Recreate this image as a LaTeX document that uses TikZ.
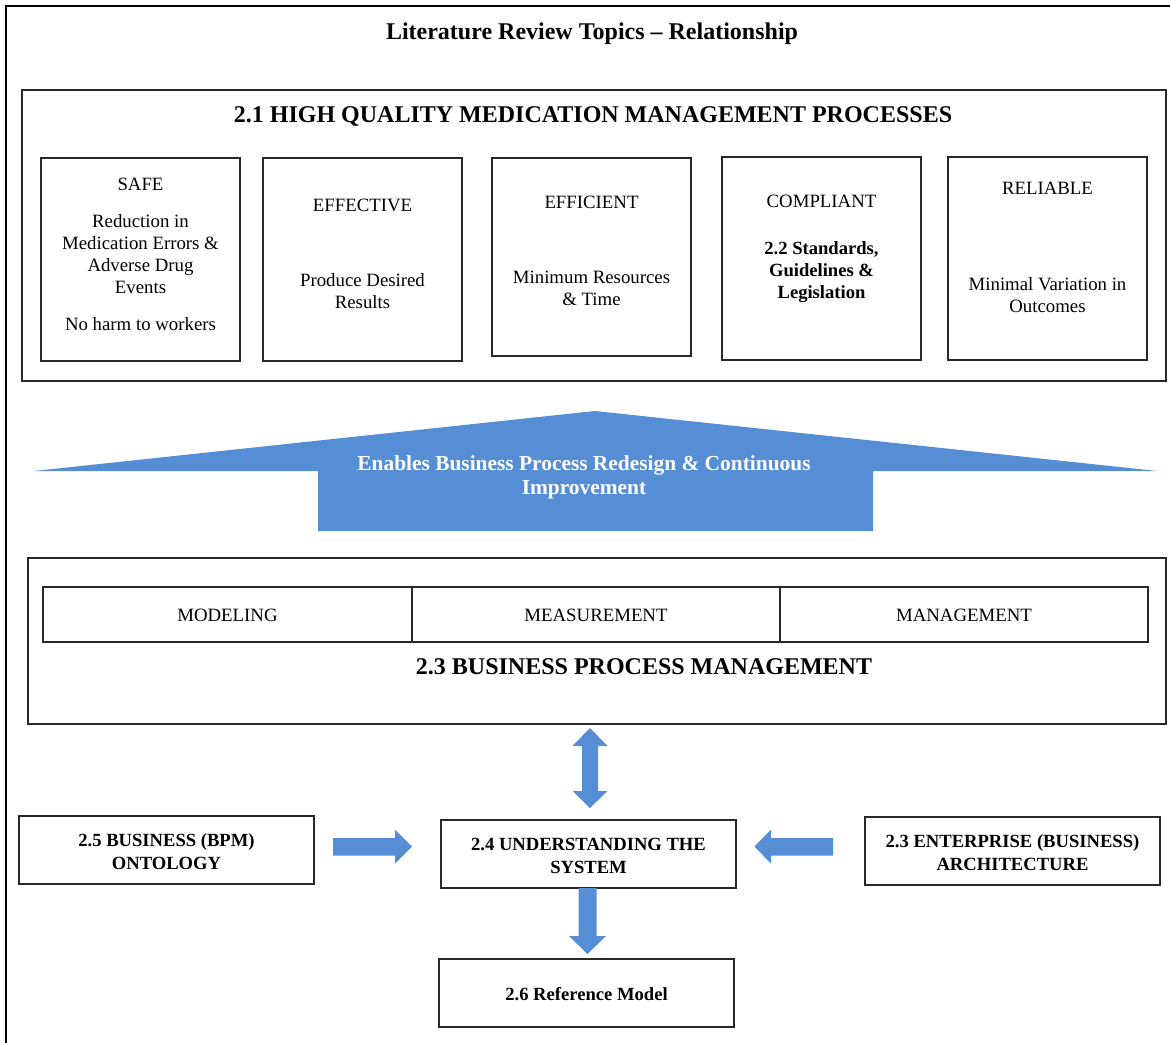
\documentclass[tikz,border=0pt]{standalone}
\usepackage{fontspec}
\setmainfont{Liberation Serif}
\usetikzlibrary{fit}
\definecolor{arrowblue}{RGB}{85,142,213}
\definecolor{boxline}{RGB}{40,40,40}
\tikzset{
  panel/.style={draw=boxline, line width=0.65pt, inner sep=0pt},
  lbl/.style={font=\fontsize{9.4}{11}\selectfont, align=center, inner sep=0pt},
  lblb/.style={font=\fontsize{9.3}{11}\selectfont\bfseries, align=center, inner sep=0pt},
  boldlbl/.style={font=\fontsize{9.3}{11.4}\selectfont\bfseries, align=center, inner sep=0pt},
  heading/.style={font=\fontsize{12}{14}\selectfont\bfseries, inner sep=0pt},
  blockarrow/.style={fill=arrowblue, draw=none},
}
\begin{document}
\begin{tikzpicture}[x=0.5pt, y=-0.5pt]
  \useasboundingbox (0,0) rectangle (1170,1042);
  \clip (0,0) rectangle (1170,1042);

  % outer frame (runs past the page on the right and bottom)
  \draw[black, line width=1pt] (6,6) rectangle (1200,1100);

  \node[heading] (title) at (592,34) {Literature Review Topics – Relationship};

  % 2.1 quality box with its five criteria
  \node[panel, fit={(22,90) (1166,381)}] (quality) {};
  \node[heading] (qtitle) at (593,117) {2.1 HIGH QUALITY MEDICATION MANAGEMENT PROCESSES};

  \node[panel, fit={(41,158) (240,361)}] (safe) {};
  \node[lbl] at (140.5,184) {SAFE};
  \node[lbl] at (140.5,254) {Reduction in\\Medication Errors \&\\Adverse Drug\\Events};
  \node[lbl] at (140.5,324) {No harm to workers};

  \node[panel, fit={(263,158) (462,361)}] (effective) {};
  \node[lbl] at (362.5,205) {EFFECTIVE};
  \node[lbl] at (362.5,291) {Produce Desired\\Results};

  \node[panel, fit={(492,158) (691,356)}] (efficient) {};
  \node[lbl] at (591.5,202) {EFFICIENT};
  \node[lbl] at (591.5,288.5) {Minimum Resources\\\& Time};

  \node[panel, fit={(722,157) (921,360)}] (compliant) {};
  \node[lbl] at (821.5,201) {COMPLIANT};
  \node[lblb] at (821.5,272) {2.2 Standards,\\Guidelines \&\\Legislation};

  \node[panel, fit={(948,157) (1147,360)}] (reliable) {};
  \node[lbl] at (1047.5,188) {RELIABLE};
  \node[lbl] at (1047.5,295) {Minimal Variation in\\Outcomes};

  % broad upward arrow
  \fill[blockarrow] (595,411) -- (1157,471) -- (873,471) -- (873,531)
    -- (318,531) -- (318,471) -- (34,471) -- cycle;
  \node[font=\fontsize{10.7}{12}\selectfont\bfseries, text=white, align=center, inner sep=0pt]
    (enables) at (584,477) {Enables Business Process Redesign \& Continuous\\Improvement};

  % 2.3 business process management
  \node[panel, fit={(28,558) (1166,724)}] (bpm) {};
  \node[panel, fit={(43,587) (412,642)}] (modeling) {};
  \node[panel, fit={(412,587) (780,642)}] (measurement) {};
  \node[panel, fit={(780,587) (1148,642)}] (management) {};
  \node[lbl] at ([yshift=-0.5pt]modeling.center) {MODELING};
  \node[lbl] at ([yshift=-0.5pt]measurement.center) {MEASUREMENT};
  \node[lbl] at ([yshift=-0.5pt]management.center) {MANAGEMENT};
  \node[heading] (bpmtitle) at (644,667) {2.3 BUSINESS PROCESS MANAGEMENT};

  % lower row of topics
  \node[panel, fit={(19,816) (314,884)}] (ontology) {};
  \node[panel, fit={(441,820) (736,888)}] (system) {};
  \node[panel, fit={(865,817) (1160,885)}] (enterprise) {};
  \node[panel, fit={(439,959) (734,1027)}] (refmodel) {};
  \node[boldlbl] at ([yshift=-1pt]ontology.center) {2.5 BUSINESS (BPM)\\ONTOLOGY};
  \node[boldlbl] at ([yshift=-1pt]system.center) {2.4 UNDERSTANDING THE\\SYSTEM};
  \node[boldlbl] at ([yshift=-1pt]enterprise.center) {2.3 ENTERPRISE (BUSINESS)\\ARCHITECTURE};
  \node[boldlbl] at ([yshift=-0.5pt]refmodel.center) {2.6 Reference Model};

  % two-headed arrow between BPM and system understanding
  \fill[blockarrow] (590,728) -- (607.5,746) -- (598,746) -- (598,791) -- (607.5,791)
    -- (590,808) -- (572.5,791) -- (582,791) -- (582,746) -- (572.5,746) -- cycle;

  % ontology feeds system understanding
  \fill[blockarrow] (333,838) -- (395,838) -- (395,829.5) -- (412,846.5) -- (395,863.5)
    -- (395,855.5) -- (333,855.5) -- cycle;

  % enterprise architecture feeds system understanding
  \fill[blockarrow] (833,838) -- (771,838) -- (771,829.5) -- (754.5,846.5) -- (771,863.5)
    -- (771,855.5) -- (833,855.5) -- cycle;

  % system understanding leads to the reference model
  \fill[blockarrow] (578.5,888) -- (596.5,888) -- (596.5,936) -- (606,936) -- (587.5,954)
    -- (569,936) -- (578.5,936) -- cycle;
\end{tikzpicture}
\end{document}
